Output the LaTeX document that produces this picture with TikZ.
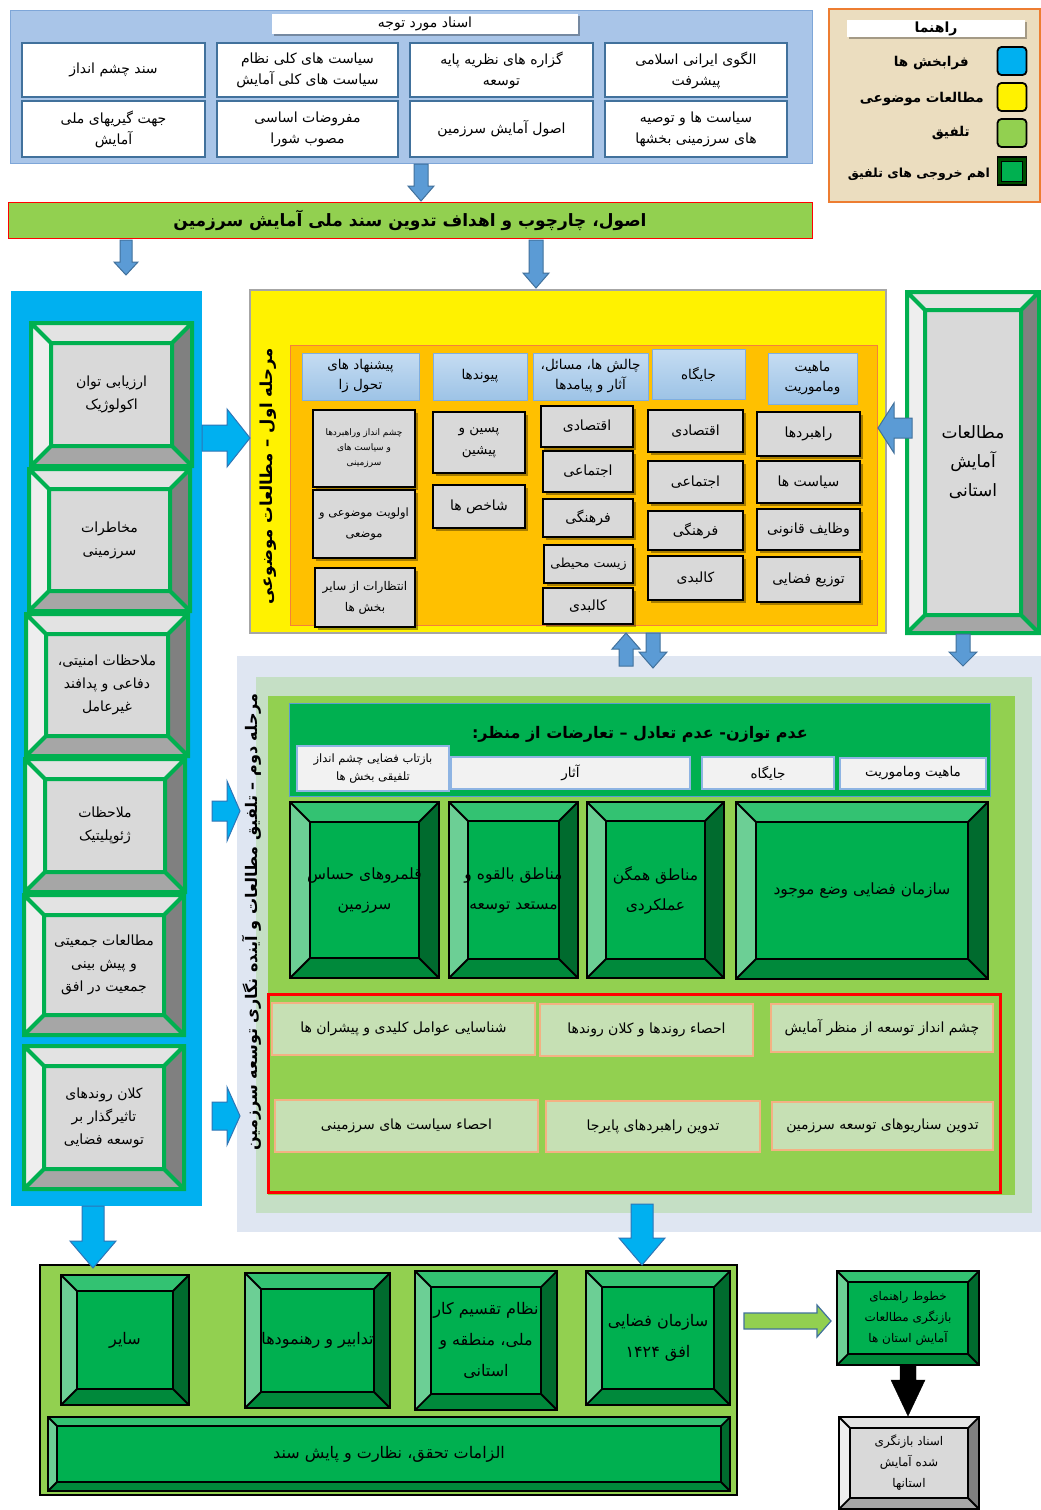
\documentclass[tikz,border=0pt]{standalone}
\usepackage{fontspec}
\newfontfamily\arabicfont[Script=Arabic]{DejaVu Sans}
\TeXXeTstate=1
\usetikzlibrary{shadows}
\newcommand\fa[1]{\beginR #1\endR}

\definecolor{topbg}{HTML}{A9C5E8}
\definecolor{topbd}{HTML}{7EA6D8}
\definecolor{wbd}{HTML}{41719C}
\definecolor{lgreen}{HTML}{92D050}
\definecolor{cyanb}{HTML}{00B0F0}
\definecolor{cyand}{HTML}{2E75B6}
\definecolor{steel}{HTML}{5B9BD5}
\definecolor{steeld}{HTML}{41719C}
\definecolor{hdrtop}{HTML}{C5DCF2}
\definecolor{hdrbot}{HTML}{9DC3E6}
\definecolor{hdrbd}{HTML}{7FAEE0}
\definecolor{orng}{HTML}{FFC000}
\definecolor{orngbd}{HTML}{F4803C}
\definecolor{gface}{HTML}{D9D9D9}
\definecolor{ph2a}{HTML}{DFE6F2}
\definecolor{ph2b}{HTML}{C5DFC5}
\definecolor{dgreen}{HTML}{00B050}
\definecolor{paleg}{HTML}{C6E0B4}
\definecolor{palegbd}{HTML}{F4B183}
\definecolor{parch}{HTML}{EBDDBF}
\definecolor{legor}{HTML}{ED7D31}
\definecolor{subbd}{HTML}{8EB4E3}
\definecolor{bgT}{HTML}{E3E3E3}
\definecolor{bgL}{HTML}{EEEEEE}
\definecolor{bgR}{HTML}{808080}
\definecolor{bgB}{HTML}{A6A6A6}
\definecolor{bgF}{HTML}{D9D9D9}
\definecolor{bnT}{HTML}{33C272}
\definecolor{bnL}{HTML}{6CCF95}
\definecolor{bnR}{HTML}{006B2E}
\definecolor{bnB}{HTML}{00893B}
\definecolor{bnF}{HTML}{00B050}

\newcommand\bevelgray{\colorlet{bvT}{bgT}\colorlet{bvL}{bgL}\colorlet{bvR}{bgR}\colorlet{bvB}{bgB}\colorlet{bvF}{bgF}}
\newcommand\bevelgreen{\colorlet{bvT}{bnT}\colorlet{bvL}{bnL}\colorlet{bvR}{bnR}\colorlet{bvB}{bnB}\colorlet{bvF}{bnF}}

\newcommand\boxnode[7]{\node[#1, minimum width={#5-#3}, minimum height={#6-#4}] (#2) at ({(#3+#5)/2},{(#4+#6)/2}) {#7};}

\newcommand\bevelbox[7]{%
 \fill[bvT] (#2,#3) -- (#4,#3) -- ({#4-#6},{#3+#6}) -- ({#2+#6},{#3+#6}) -- cycle;
 \fill[bvB] (#2,#5) -- (#4,#5) -- ({#4-#6},{#5-#6}) -- ({#2+#6},{#5-#6}) -- cycle;
 \fill[bvL] (#2,#3) -- ({#2+#6},{#3+#6}) -- ({#2+#6},{#5-#6}) -- (#2,#5) -- cycle;
 \fill[bvR] (#4,#3) -- ({#4-#6},{#3+#6}) -- ({#4-#6},{#5-#6}) -- (#4,#5) -- cycle;
 \fill[bvF] ({#2+#6},{#3+#6}) rectangle ({#4-#6},{#5-#6});
 \draw[bvedge] (#2,#3) rectangle (#4,#5) ({#2+#6},{#3+#6}) rectangle ({#4-#6},{#5-#6})
   (#2,#3) -- ({#2+#6},{#3+#6}) (#4,#3) -- ({#4-#6},{#3+#6})
   (#2,#5) -- ({#2+#6},{#5-#6}) (#4,#5) -- ({#4-#6},{#5-#6});
 \node[bvtext] (#1) at ({(#2+#4)/2},{(#3+#5)/2}) {#7};
}

\newcommand\arrdown[7]{\filldraw[#1] ({#2-#5},#3) -- ({#2-#5},{#4-#7}) -- ({#2-#6},{#4-#7}) -- (#2,#4) -- ({#2+#6},{#4-#7}) -- ({#2+#5},{#4-#7}) -- ({#2+#5},#3) -- cycle;}
\newcommand\arrup[7]{\filldraw[#1] ({#2-#5},#3) -- ({#2-#5},{#4+#7}) -- ({#2-#6},{#4+#7}) -- (#2,#4) -- ({#2+#6},{#4+#7}) -- ({#2+#5},{#4+#7}) -- ({#2+#5},#3) -- cycle;}
\newcommand\arrright[7]{\filldraw[#1] (#3,{#2-#5}) -- ({#4-#7},{#2-#5}) -- ({#4-#7},{#2-#6}) -- (#4,#2) -- ({#4-#7},{#2+#6}) -- ({#4-#7},{#2+#5}) -- (#3,{#2+#5}) -- cycle;}
\newcommand\arrleft[7]{\filldraw[#1] (#3,{#2-#5}) -- ({#4+#7},{#2-#5}) -- ({#4+#7},{#2-#6}) -- (#4,#2) -- ({#4+#7},{#2+#6}) -- ({#4+#7},{#2+#5}) -- (#3,{#2+#5}) -- cycle;}

\begin{document}
\begin{tikzpicture}[x=1pt,y=-1pt,
  fs/.style 2 args={font=\arabicfont\fontsize{#1}{#2}\selectfont},
  fsb/.style 2 args={font=\arabicfont\bfseries\fontsize{#1}{#2}\selectfont},
  fa/.style={align=center, inner sep=1pt, text=black, fs={12}{16}},
  wbox/.style={fa, draw=wbd, line width=2, fill=white, fs={14}{21}},
  gbox/.style={fa, draw=black, line width=1.8, fill=gface, fs={14}{18},
    drop shadow={shadow xshift=2.5pt, shadow yshift=-2.5pt, fill=black, opacity=0.35}},
  hbox/.style={fa, draw=hdrbd, line width=0.8, top color=hdrtop, bottom color=hdrbot, fs={13.5}{20}},
  subbox/.style={fa, draw=subbd, line width=1.2, fill=black!5, fs={13.5}{16}},
  pbox/.style={fa, draw=palegbd, line width=1.2, fill=paleg, fs={14}{16}},
  steelarr/.style={fill=steel, draw=steeld, line width=1},
  cyanarr/.style={fill=cyanb, draw=cyand, line width=1},
  swatch/.style={draw=black, line width=1.8, rounded corners=4, minimum width=29, minimum height=28, inner sep=0},
  leglab/.style={fa, fsb={13.5}{16}, anchor=east}
]
\useasboundingbox (0,0) rectangle (1041,1510);
\fill[white] (0,0) rectangle (1041,1510);

% ---------------- top documents block
\boxnode{draw=topbd, fill=topbg, line width=1}{docs}{10}{10}{812}{163}{}
\boxnode{fa, fill=white, fs={14}{15}, drop shadow={shadow xshift=2pt, shadow yshift=-2pt, fill=black, opacity=0.3}}{docstitle}{272}{14}{578}{34}{\fa{اسناد مورد توجه}}
\boxnode{wbox}{d11}{605}{43}{787}{97}{\fa{الگوی ایرانی اسلامی}\\\fa{پیشرفت}}
\boxnode{wbox}{d12}{410}{43}{593}{97}{\fa{گزاره های نظریه پایه}\\\fa{توسعه}}
\boxnode{wbox}{d13}{217}{43}{398}{97}{\fa{سیاست های کلی نظام}\\\fa{سیاست های کلی آمایش}}
\boxnode{wbox}{d14}{22}{43}{205}{97}{\fa{سند چشم انداز}}
\boxnode{wbox}{d21}{605}{101}{787}{157}{\fa{سیاست ها و توصیه}\\\fa{های سرزمینی بخشها}}
\boxnode{wbox}{d22}{410}{101}{593}{157}{\fa{اصول آمایش سرزمین}}
\boxnode{wbox}{d23}{217}{101}{398}{157}{\fa{مفروضات اساسی}\\\fa{مصوب شورا}}
\boxnode{wbox}{d24}{22}{101}{205}{157}{\fa{جهت گیریهای ملی}\\\fa{آمایش}}

\arrdown{steelarr}{421}{164}{201}{7}{13}{15}

% green bar
\boxnode{fa, fill=lgreen, draw=red, line width=1, fsb={17}{19}}{bar}{8}{202}{812}{238}{\fa{اصول، چارچوب و اهداف تدوین سند ملی آمایش سرزمین}}

\arrdown{steelarr}{126}{240}{275}{6}{12}{13}
\arrdown{steelarr}{536}{240}{288}{7}{13}{15}

% ---------------- legend
\boxnode{fill=parch, draw=legor, line width=2.5}{legend}{829}{9}{1040}{202}{}
\boxnode{fa, fill=white, fsb={14}{15}, drop shadow={shadow xshift=2pt, shadow yshift=-2pt, fill=black, opacity=0.3}}{legtitle}{847}{20}{1025}{37}{\fa{راهنما}}
\node[swatch, fill=cyanb] (swa) at (1012,61) {};
\node[swatch, fill=yellow] (swb) at (1012,97) {};
\node[swatch, fill=lgreen] (swc) at (1012,133) {};
\node[draw=black, fill=black!70!green, line width=1.8, minimum width=29, minimum height=28, inner sep=0] (swd) at (1012,171) {};
\node[draw=black, fill=dgreen, line width=1, minimum width=21, minimum height=20, inner sep=0] (swd2) at (1012,171) {};
\node[leglab] (la) at (970,63) {\fa{فرابخش ها}};
\node[leglab] (lb) at (985,99) {\fa{مطالعات موضوعی}};
\node[leglab] (lc) at (971,133) {\fa{تلفیق}};
\node[leglab, fsb={12.5}{16}] (ld) at (991,174) {\fa{اهم خروجی های تلفیق}};

% ---------------- left blue column
\boxnode{fill=cyanb}{leftcol}{11}{291}{202}{1206}{}
\bevelgray
\tikzset{bvedge/.style={draw=dgreen, line width=4, line join=miter},
         bvtext/.style={fa, fs={14}{23}}}
\bevelbox{l1}{31}{323}{192}{466}{20}{\fa{ارزیابی توان}\\\fa{اکولوژیک}}
\bevelbox{l2}{29}{469}{190}{611}{20}{\fa{مخاطرات}\\\fa{سرزمینی}}
\bevelbox{l3}{26}{614}{188}{756}{20}{\fa{ملاحظات امنیتی،}\\\fa{دفاعی و پدافند}\\\fa{غیرعامل}}
\bevelbox{l4}{25}{759}{185}{892}{20}{\fa{ملاحظات}\\\fa{ژئوپلیتیک}}
\bevelbox{l5}{24}{895}{184}{1035}{20}{\fa{مطالعات جمعیتی}\\\fa{و پیش بینی}\\\fa{جمعیت در افق}}
\bevelbox{l6}{24}{1046}{184}{1189}{20}{\fa{کلان روندهای}\\\fa{تاثیرگذار بر}\\\fa{توسعه فضایی}}

% ---------------- phase 1 (yellow)
\boxnode{fill=yellow, draw=black!35, line width=2}{phase1}{250}{290}{886}{633}{}
\node[fsb={16.5}{18}, rotate=90, inner sep=0] (p1lab) at (268,476) {\fa{مرحله اول – مطالعات موضوعی}};
\boxnode{fill=orng, draw=orngbd, line width=0.6}{p1in}{290}{345}{877}{625}{}

\boxnode{hbox}{h1}{302}{353}{419}{400}{\fa{پیشنهاد های}\\\fa{تحول زا}}
\boxnode{hbox}{h2}{433}{353}{527}{400}{\fa{پیوندها}}
\boxnode{hbox}{h3}{533}{353}{648}{400}{\fa{چالش ها، مسائل،}\\\fa{آثار و پیامدها}}
\boxnode{hbox}{h4}{652}{349}{745}{399}{\fa{جایگاه}}
\boxnode{hbox}{h5}{768}{353}{857}{404}{\fa{ماهیت}\\\fa{وماموریت}}

\boxnode{gbox, fs={9}{15}}{c1a}{313}{410}{415}{487}{\fa{چشم انداز وراهبردها}\\\fa{و سیاست های}\\\fa{سرزمینی}}
\boxnode{gbox, fs={11.5}{21}}{c1b}{313}{490}{415}{558}{\fa{اولویت موضوعی و}\\\fa{موضعی}}
\boxnode{gbox, fs={12}{21}}{c1c}{315}{568}{415}{627}{\fa{انتظارات از سایر}\\\fa{بخش ها}}
\boxnode{gbox, fs={13.5}{22}}{c2a}{433}{412}{525}{473}{\fa{پسین و}\\\fa{پیشین}}
\boxnode{gbox}{c2b}{433}{485}{525}{528}{\fa{شاخص ها}}
\boxnode{gbox}{c3a}{541}{406}{633}{447}{\fa{اقتصادی}}
\boxnode{gbox}{c3b}{543}{451}{633}{492}{\fa{اجتماعی}}
\boxnode{gbox}{c3c}{543}{499}{633}{537}{\fa{فرهنگی}}
\boxnode{gbox, fs={12.5}{14}}{c3d}{544}{545}{633}{583}{\fa{زیست محیطی}}
\boxnode{gbox}{c3e}{543}{588}{633}{624}{\fa{کالبدی}}
\boxnode{gbox}{c4a}{648}{410}{743}{452}{\fa{اقتصادی}}
\boxnode{gbox}{c4b}{648}{461}{743}{503}{\fa{اجتماعی}}
\boxnode{gbox}{c4c}{648}{511}{743}{550}{\fa{فرهنگی}}
\boxnode{gbox}{c4d}{648}{556}{743}{600}{\fa{کالبدی}}
\boxnode{gbox}{c5a}{757}{412}{860}{456}{\fa{راهبردها}}
\boxnode{gbox}{c5b}{757}{461}{860}{503}{\fa{سیاست ها}}
\boxnode{gbox}{c5c}{757}{509}{860}{550}{\fa{وظایف قانونی}}
\boxnode{gbox}{c5d}{757}{557}{860}{602}{\fa{توزیع فضایی}}

% ---------------- provincial studies box
\tikzset{bvtext/.style={fa, fs={17}{29}}}
\bevelbox{prov}{907}{292}{1039}{633}{18}{\fa{مطالعات}\\\fa{آمایش}\\\fa{استانی}}

% ---------------- phase 2
\boxnode{fill=ph2a}{phase2}{237}{656}{1041}{1232}{}
\boxnode{fill=ph2b}{ph2b}{256}{677}{1032}{1213}{}
\boxnode{fill=lgreen}{ph2c}{268}{696}{1015}{1195}{}
\node[fsb={16}{18}, rotate=90, inner sep=0] (p2lab) at (252,922) {\fa{مرحله دوم – تلفیق مطالعات و آینده نگاری توسعه سرزمین}};

\boxnode{fill=dgreen, draw=steel, line width=0.8}{hdr2}{289}{703}{990}{796}{}
\node[fsb={16}{18}] (hdr2t) at (640,734) {\fa{عدم توازن- عدم تعادل – تعارضات از منظر:}};
\boxnode{subbox, fs={11.5}{18}}{s1}{297}{746}{449}{791}{\fa{بازتاب فضایی چشم انداز}\\\fa{تلفیقی بخش ها}}
\boxnode{subbox}{s2}{451}{757}{690}{789}{\fa{آثار}}
\boxnode{subbox}{s3}{702}{757}{834}{789}{\fa{جایگاه}}
\boxnode{subbox}{s4}{840}{758}{986}{789}{\fa{ماهیت وماموریت}}

\bevelgreen
\tikzset{bvedge/.style={draw=black, line width=1.8, line join=miter},
         bvtext/.style={fa, fs={15.5}{30}}}
\bevelbox{g1}{290}{802}{439}{978}{20}{\fa{قلمروهای حساس}\\\fa{سرزمین}}
\bevelbox{g2}{449}{802}{578}{978}{19}{\fa{مناطق بالقوه و}\\\fa{مستعد توسعه}}
\bevelbox{g3}{587}{802}{724}{978}{19}{\fa{مناطق همگن}\\\fa{عملکردی}}
\bevelbox{g4}{736}{802}{988}{979}{20}{\fa{سازمان فضایی وضع موجود}}

\draw[red, line width=3] (268,994) rectangle (1000,1192);
\boxnode{pbox}{r1}{272}{1003}{535}{1055}{\fa{شناسایی عوامل کلیدی و پیشران ها}}
\boxnode{pbox}{r2}{540}{1004}{753}{1056}{\fa{احصاء روندها و کلان روندها}}
\boxnode{pbox}{r3}{771}{1004}{993}{1052}{\fa{چشم انداز توسعه از منظر آمایش}}
\boxnode{pbox}{r4}{275}{1100}{538}{1152}{\fa{احصاء سیاست های سرزمینی}}
\boxnode{pbox}{r5}{546}{1101}{760}{1152}{\fa{تدوین راهبردهای پایرجا}}
\boxnode{pbox}{r6}{772}{1102}{993}{1150}{\fa{تدوین سناریوهای توسعه سرزمین}}

% ---------------- arrows between regions
\arrright{cyanarr}{438}{202}{250}{13}{29}{23}
\arrright{cyanarr}{811}{212}{240}{10}{30}{13}
\arrright{cyanarr}{1116}{212}{240}{14}{29}{13}
\arrleft{steelarr}{428}{912}{878}{10}{25}{16}
\arrdown{steelarr}{963}{634}{666}{7}{14}{14}
\arrup{steelarr}{626}{666}{633}{7}{14}{16}
\arrdown{steelarr}{653}{633}{668}{7}{14}{16}

% ---------------- bottom outputs
\boxnode{fill=lgreen, draw=black, line width=1.5}{outs}{40}{1265}{737}{1495}{}
\arrdown{cyanarr}{93}{1206}{1268}{11}{23}{27}
\arrdown{cyanarr}{642}{1204}{1265}{11}{23}{27}

\tikzset{bvtext/.style={fa, fs={16}{31}}}
\bevelbox{o1}{61}{1275}{189}{1405}{16}{\fa{سایر}}
\bevelbox{o2}{245}{1273}{390}{1408}{16}{\fa{تدابیر و رهنمودها}}
\bevelbox{o3}{415}{1271}{557}{1410}{16}{\fa{نظام تقسیم کار}\\\fa{ملی، منطقه و}\\\fa{استانی}}
\bevelbox{o4}{586}{1271}{730}{1405}{16}{\fa{سازمان فضایی}\\\fa{افق \beginL ۱۴۲۴\endL}}
\tikzset{bvtext/.style={fa, fs={16}{18}}}
\bevelbox{o5}{48}{1417}{730}{1491}{9}{\fa{الزامات تحقق، نظارت و پایش سند}}

\arrright{fill=lgreen, draw=steeld, line width=1.2}{1321}{744}{831}{8}{16}{14}

\tikzset{bvtext/.style={fa, fs={12}{21}}}
\bevelbox{guide}{837}{1271}{979}{1365}{11}{\fa{خطوط راهنمای}\\\fa{بازنگری مطالعات}\\\fa{آمایش استان ها}}
\arrdown{fill=black, draw=black}{908}{1366}{1416}{8}{17}{36}
\bevelgray
\tikzset{bvedge/.style={draw=black, line width=1.8, line join=miter}}
\bevelbox{revised}{839}{1417}{979}{1509}{11}{\fa{اسناد بازنگری}\\\fa{شده آمایش}\\\fa{استانها}}
\end{tikzpicture}
\end{document}
